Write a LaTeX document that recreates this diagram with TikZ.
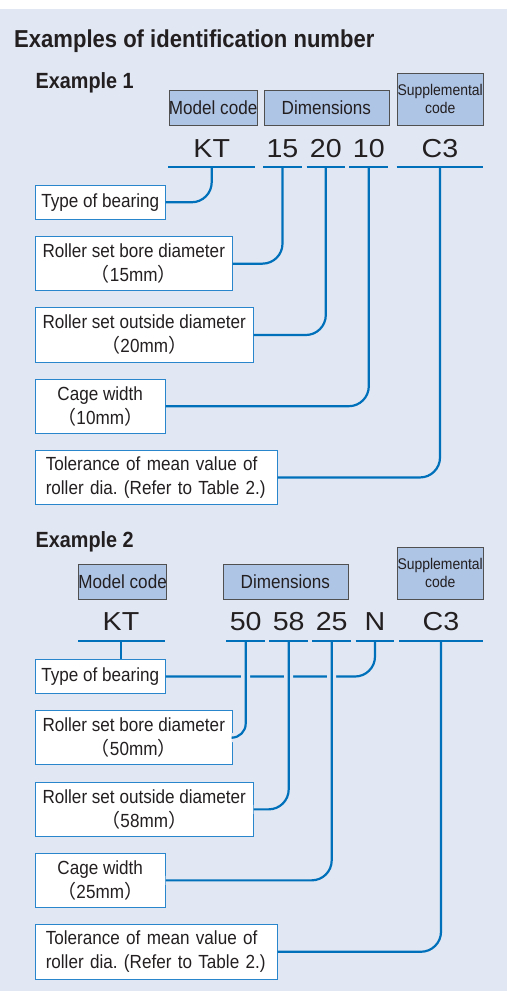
\documentclass[tikz,border=0pt]{standalone}
\usepackage{fontspec}
\setmainfont{Liberation Sans}
\newfontfamily\condfont[FakeStretch=0.9]{Liberation Sans}
\newfontfamily\codefamily[FakeStretch=1.1]{Liberation Sans}
\newfontfamily\cjkfont{Noto Sans CJK JP}

\definecolor{bgblue}{HTML}{E1E8F4}
\definecolor{headblue}{HTML}{AFC5E6}
\definecolor{boxgray}{HTML}{505050}
\definecolor{lineblue}{HTML}{0070BB}
\definecolor{boxblue}{HTML}{2A86CC}
\definecolor{textgray}{HTML}{231F20}

\newcommand\lblfont{\condfont\fontsize{19}{24}\selectfont}
\newcommand\suppfont{\condfont\fontsize{15.5}{18}\selectfont}
\newcommand\fwmm[1]{{\cjkfont （}#1mm{\cjkfont ）}}
\frenchspacing

\tikzset{
  title/.style={anchor=base west, inner sep=0pt, text=textgray, font=\condfont\bfseries\fontsize{24.5}{28}\selectfont},
  extitle/.style={anchor=base west, inner sep=0pt, text=textgray, font=\condfont\bfseries\fontsize{22}{26}\selectfont},
  headbox/.style={draw=boxgray, fill=headblue, line width=0.8pt, inner sep=0pt, anchor=north west, text=textgray, font=\lblfont, align=center},
  infobox/.style={draw=boxblue, fill=white, line width=1pt, inner sep=0pt, anchor=north west, text=textgray, font=\lblfont, align=center},
  notebox/.style={infobox, minimum width=241.5pt, minimum height=54.5pt, text width=221pt, align=left, inner xsep=10.25pt},
  code/.style={anchor=base, inner sep=0pt, text=textgray, font=\codefamily\fontsize{26}{30}\selectfont},
  uline/.style={draw=lineblue, line width=2pt},
  conn/.style={draw=lineblue, line width=2.2pt, rounded corners=20pt},
  halo/.style={preaction={draw=bgblue, line width=9pt}},
}

\begin{document}
\begin{tikzpicture}[x=1pt,y=-1pt]
  \useasboundingbox (0,0) rectangle (507,991);
  % fond
  \fill[bgblue] (0,9) rectangle (507,991);

  % Titres
  \node[title] (titre) at (14,47.7) {Examples of identification number};
  \node[extitle] (ex1) at (35.5,88) {Example 1};
  \node[extitle] (ex2) at (35.5,547.3) {Example 2};

  % Exemple 1 : en-tetes
  \node[headbox, minimum width=86.5pt, minimum height=35pt] (model1) at (168.5,89.5) {Model code};
  \node[headbox, minimum width=125pt, minimum height=35pt] (dim1) at (263.5,89.5) {Dimensions};
  \node[headbox, minimum width=86.5pt, minimum height=52pt, font=\suppfont] (supp1) at (396.5,72.5) {Supplemental\\code};

  % Exemple 1 : le numero
  \node[code] (kt1) at (211.7,157) {KT};
  \node[code] (d15) at (282.5,157) {15};
  \node[code] (d20) at (325.8,157) {20};
  \node[code] (d10) at (368.8,157) {10};
  \node[code] (c31) at (440,157) {C3};

  \coordinate (ukt1) at (211.7,167);
  \coordinate (u15) at (282.5,167);
  \coordinate (u20) at (325.8,167);
  \coordinate (u10) at (368.8,167);
  \coordinate (uc1) at (440,167);

  % Exemple 1 : les cadres
  \node[infobox, minimum width=129.5pt, minimum height=34.5pt] (type1) at (35,184.5) {Type of bearing};
  \node[infobox, minimum width=196.5pt, minimum height=54.3pt] (bore1) at (35,236) {Roller set bore diameter\\\fwmm{15}};
  \node[infobox, minimum width=217.5pt, minimum height=54.4pt] (outer1) at (35,307.3) {Roller set outside diameter\\\fwmm{20}};
  \node[infobox, minimum width=129.5pt, minimum height=54pt] (cage1) at (35,378.7) {Cage width\\\fwmm{10}};
  \node[notebox] (tol1) at (35,449.7) {Tolerance of mean value of\\roller dia. (Refer to Table 2.)};

  % Exemple 1 : liaisons
  \draw[conn] (ukt1) |- (type1.east);
  \draw[conn] (u15) |- (bore1.east);
  \draw[conn] (u20) |- (outer1.east);
  \draw[conn] (u10) |- (cage1.east);
  \draw[conn] (uc1) |- (tol1.east);

  % Exemple 2 : en-tetes
  \node[headbox, minimum width=86.5pt, minimum height=34.7pt] (model2) at (78,564) {Model code};
  \node[headbox, minimum width=125pt, minimum height=34.7pt] (dim2) at (222.5,564) {Dimensions};
  \node[headbox, minimum width=86.5pt, minimum height=52pt, font=\suppfont] (supp2) at (396.5,546.7) {Supplemental\\code};

  % Exemple 2 : le numero
  \node[code] (kt2) at (121,630) {KT};
  \node[code] (d50) at (245.7,630) {50};
  \node[code] (d58) at (288.7,630) {58};
  \node[code] (d25) at (331.7,630) {25};
  \node[code] (n2) at (375,630) {N};
  \node[code] (c32) at (441,630) {C3};

  \coordinate (ukt2) at (121,640.7);
  \coordinate (u50) at (245.7,640.7);
  \coordinate (u58) at (288.7,640.7);
  \coordinate (u25) at (331.7,640.7);
  \coordinate (un2) at (375,640.7);
  \coordinate (uc2) at (441,640.7);

  % Exemple 2 : les cadres
  \node[infobox, minimum width=129.5pt, minimum height=34.6pt] (type2) at (35,658.7) {Type of bearing};
  \node[infobox, minimum width=196.5pt, minimum height=54.3pt] (bore2) at (35,710) {Roller set bore diameter\\\fwmm{50}};
  \node[infobox, minimum width=217.5pt, minimum height=54.3pt] (outer2) at (35,781.7) {Roller set outside diameter\\\fwmm{58}};
  \node[infobox, minimum width=129.5pt, minimum height=54.3pt] (cage2) at (35,852.7) {Cage width\\\fwmm{25}};
  \node[notebox] (tol2) at (35,924) {Tolerance of mean value of\\roller dia. (Refer to Table 2.)};

  % Exemple 2 : liaisons
  \draw[conn] (ukt2) -- (ukt2 |- type2.north);
  \draw[conn] (un2) |- (type2.east);
  \draw[conn, halo, rounded corners=14pt] (u50) |- (bore2.east);
  \draw[conn, halo] (u58) |- (outer2.east);
  \draw[conn, halo] (u25) |- (cage2.east);
  \draw[conn] (uc2) |- (tol2.east);

  % Les soulignements
  \foreach \a/\b in {168.3/255, 263.3/301.7, 306.7/345, 349.3/388.3, 396.7/483.3}
    \draw[uline] (\a,167) -- (\b,167);
  \foreach \a/\b in {78/164.5, 226.3/265, 269.3/308, 312.3/351, 355.7/394.3, 399/483}
    \draw[uline] (\a,640.7) -- (\b,640.7);

\end{tikzpicture}
\end{document}
